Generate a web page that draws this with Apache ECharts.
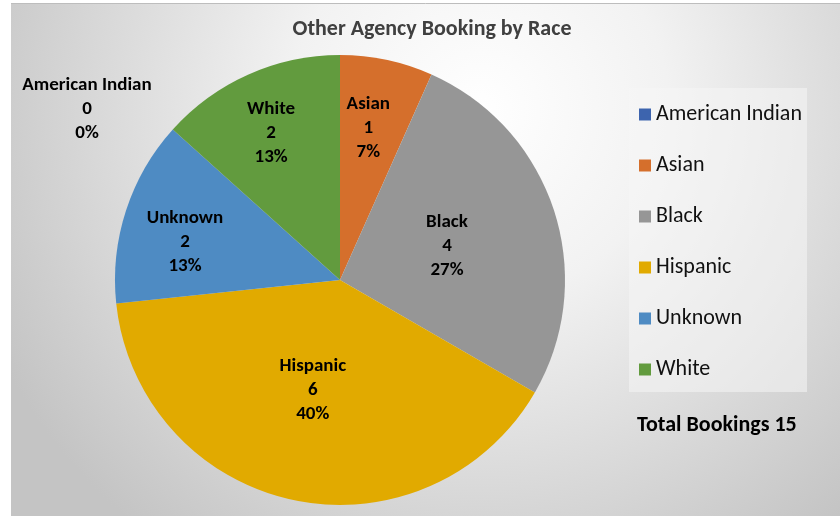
<!DOCTYPE html>
<html>
<head>
<meta charset="utf-8">
<script src="https://cdn.jsdelivr.net/npm/echarts@6/dist/echarts.min.js"></script>
<style>
  html, body { margin: 0; padding: 0; background: #ffffff; }
  #chart { width: 840px; height: 516px; }
</style>
</head>
<body>
<div id="chart"></div>
<script>
// Booking counts by race
const races = ['American Indian', 'Asian', 'Black', 'Hispanic', 'Unknown', 'White'];
const bookings = [0, 1, 4, 6, 2, 2];
const sliceColors = ['#3d64ae', '#d56f2c', '#969696', '#e1aa00', '#4e8bc3', '#629b3e'];
const chartTitle = 'Other Agency Booking by Race';
const totalLabel = 'Total Bookings';

// Label placement inside each slice: [fraction of radius, angle shift in degrees]
const labelPolar = [null, [0.69, -1.5], [0.5, 0], [0.5, 2], [0.71, -4], [0.725, -1]];
const zeroLabelPos = { x: 87, y: 109 };

const FONT = 'Carlito, Calibri, Lato, sans-serif';
const CX = 340, CY = 280, R = 225;

const total = bookings.reduce((a, b) => a + b, 0);
const startAngles = [];
let acc = 0;
bookings.forEach(v => { startAngles.push(acc); acc += v; });

const chart = echarts.init(document.getElementById('chart'), null, { renderer: 'canvas' });

chart.setOption({
  backgroundColor: '#ffffff',
  animation: false,
  color: sliceColors,
  graphic: [
    {
      type: 'rect', z: -10, silent: true,
      shape: { x: 11, y: 3, width: 829, height: 513 },
      style: {
        fill: new echarts.graphic.RadialGradient(480, 110, 540, [
          { offset: 0, color: '#ffffff' },
          { offset: 0.35, color: '#f2f2f2' },
          { offset: 1, color: '#c4c4c4' }
        ], true)
      }
    },
    {
      type: 'line', z: -9, silent: true,
      shape: { x1: 11, y1: 3.5, x2: 840, y2: 3.5 },
      style: { stroke: '#bdbdbd', lineWidth: 1 }
    },
    {
      type: 'rect', z: -5, silent: true,
      shape: { x: 629, y: 88, width: 178, height: 304 },
      style: { fill: 'rgba(245,245,245,0.55)' }
    },
    {
      type: 'text', silent: true,
      style: {
        x: 432, y: 29, text: chartTitle, fill: '#404040',
        font: 'bold 22px ' + FONT, align: 'center', verticalAlign: 'middle'
      }
    },
    {
      type: 'text', silent: true,
      style: {
        x: 637, y: 425, text: totalLabel + ' ' + total, fill: '#000000',
        font: 'bold 22px ' + FONT, align: 'left', verticalAlign: 'middle'
      }
    }
  ],
  legend: {
    orient: 'vertical',
    left: 639,
    top: 103,
    padding: 0,
    icon: 'rect',
    itemWidth: 12,
    itemHeight: 12,
    itemGap: 28,
    data: races,
    textStyle: { fontFamily: FONT, fontSize: 22, lineHeight: 23, color: '#111111' }
  },
  series: [{
    type: 'pie',
    center: [CX, CY],
    radius: R,
    startAngle: 90,
    clockwise: true,
    avoidLabelOverlap: false,
    itemStyle: { borderWidth: 0 },
    emphasis: { disabled: true },
    label: {
      show: true,
      position: 'inside',
      fontFamily: FONT,
      fontWeight: 'bold',
      fontSize: 19,
      lineHeight: 24,
      color: '#000000',
      formatter: p => p.name + '\n' + p.value + '\n' + Math.round(p.value / total * 100) + '%'
    },
    labelLine: { show: false },
    labelLayout: params => {
      const i = params.dataIndex;
      if (bookings[i] === 0) {
        return { x: zeroLabelPos.x, y: zeroLabelPos.y };
      }
      const mid = (startAngles[i] + bookings[i] / 2) / total * 360 + labelPolar[i][1];
      const rad = mid * Math.PI / 180;
      const r = R * labelPolar[i][0];
      return { x: CX + r * Math.sin(rad), y: CY - r * Math.cos(rad) + 1 };
    },
    data: races.map((name, i) => ({ name, value: bookings[i] }))
  }]
});
</script>
</body>
</html>
